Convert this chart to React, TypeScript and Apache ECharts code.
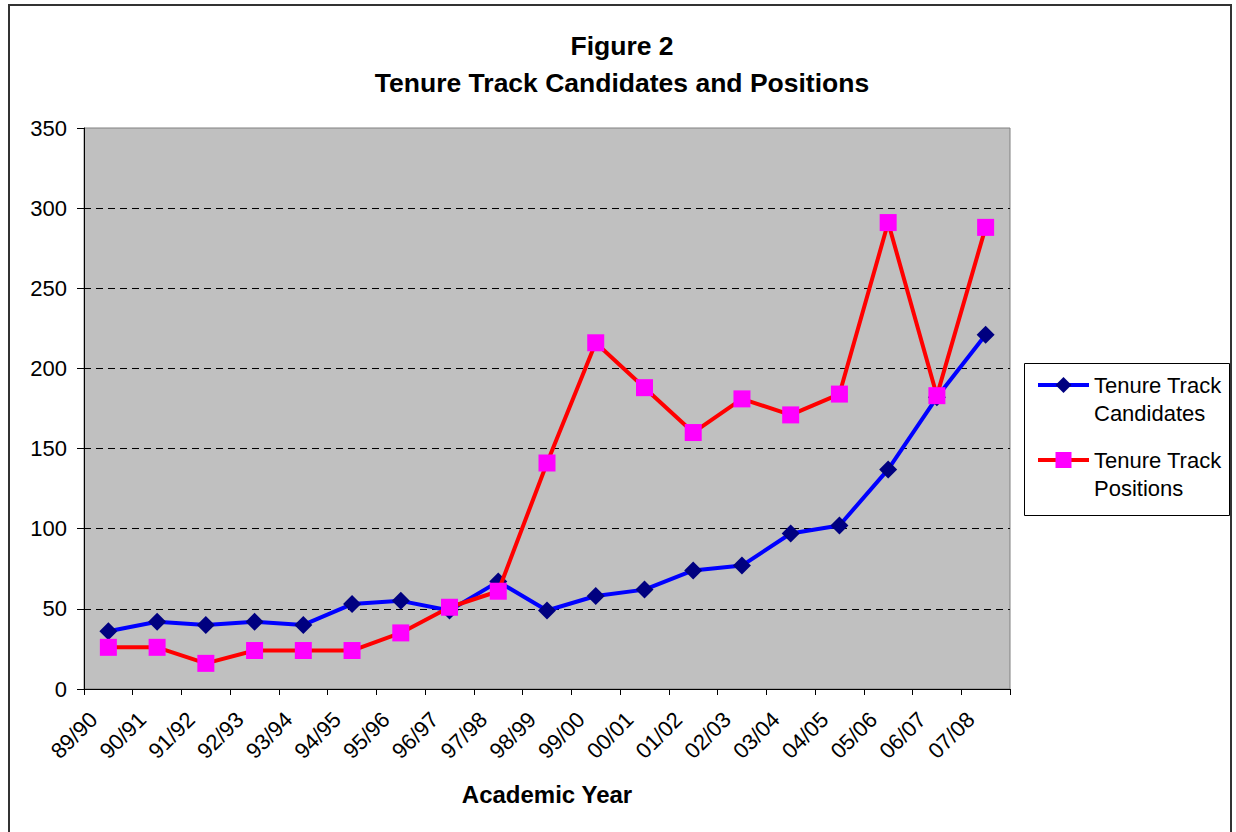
import React, { useEffect, useRef } from "react";
import * as echarts from "echarts";

const categories = ["89/90","90/91","91/92","92/93","93/94","94/95","95/96","96/97","97/98","98/99","99/00","00/01","01/02","02/03","03/04","04/05","05/06","06/07","07/08"];
const candidates = [36,42,40,42,40,53,55,49,67,49,58,62,74,77,97,102,137,182,221];
const positions = [26,26,16,24,24,24,35,51,61,141,216,188,160,181,171,184,291,183,288];
const seriesNames = ["Tenure Track\nCandidates", "Tenure Track\nPositions"];
const yTicks = { min: 0, max: 350, interval: 50 };

const FONT = "'Liberation Sans', Arial, sans-serif";

export default function App() {
  const ref = useRef<HTMLDivElement>(null);
  useEffect(() => {
    if (!ref.current) return;
    const chart = echarts.init(ref.current, null, { renderer: "svg" });
    chart.setOption({
      animation: false,
      backgroundColor: "#ffffff",
      textStyle: { fontFamily: FONT },
      title: {
        text: "Figure 2\nTenure Track Candidates and Positions",
        left: 622,
        top: 27,
        padding: 0,
        textAlign: "center",
        textStyle: { fontFamily: FONT, fontSize: 26.5, fontWeight: "bold", color: "#000", lineHeight: 37 },
      },
      graphic: [
        { type: "rect", shape: { x: 9, y: 5, width: 1222, height: 840 }, style: { fill: "none", stroke: "#333", lineWidth: 2 }, silent: true },
        { type: "rect", shape: { x: 1024.5, y: 363.5, width: 205, height: 152 }, style: { fill: "#fff", stroke: "#000", lineWidth: 1 }, silent: true, z: 1 },
      ],
      legend: {
        orient: "vertical",
        left: 1036,
        top: 343,
        padding: 0,
        itemGap: -9,
        itemWidth: 51,
        itemHeight: 20,
        z: 10,
        lineStyle: { width: 4 },
        formatter: (name: string) => " \n" + name,
        textStyle: { fontFamily: FONT, fontSize: 22, color: "#000", lineHeight: 28 },
        data: seriesNames,
      },
      grid: {
        left: 84,
        top: 128,
        width: 926,
        height: 561,
        show: true,
        backgroundColor: "#C0C0C0",
        borderColor: "#808080",
        borderWidth: 1,
      },
      xAxis: {
        type: "category",
        data: categories,
        boundaryGap: true,
        name: "Academic Year",
        nameLocation: "middle",
        nameGap: 93,
        nameTextStyle: { fontFamily: FONT, fontSize: 24, fontWeight: "bold", color: "#000" },
        axisLine: { lineStyle: { color: "#000", width: 1 } },
        axisTick: { show: true, length: 6, interval: 0, lineStyle: { color: "#000" } },
        axisLabel: {
          interval: 0,
          rotate: 45,
          margin: 12,
          padding: [0, 21, 0, 0],
          fontFamily: FONT,
          fontSize: 22,
          color: "#000",
        },
        splitLine: { show: false },
      },
      yAxis: {
        type: "value",
        min: yTicks.min,
        max: yTicks.max,
        interval: yTicks.interval,
        axisLine: { show: true, lineStyle: { color: "#000", width: 1 } },
        axisTick: { show: true, length: 7, lineStyle: { color: "#000" } },
        axisLabel: { margin: 17, fontFamily: FONT, fontSize: 22, color: "#000" },
        splitLine: { show: true, showMinLine: false, showMaxLine: false, lineStyle: { color: "#000", type: [7, 5], width: 1 } },
      },
      series: [
        {
          name: seriesNames[0],
          type: "line",
          data: candidates,
          symbol: "diamond",
          symbolSize: 18,
          lineStyle: { color: "#0000FF", width: 4 },
          itemStyle: { color: "#000080" },
          z: 2,
        },
        {
          name: seriesNames[1],
          type: "line",
          data: positions,
          symbol: "rect",
          symbolSize: 17,
          lineStyle: { color: "#FF0000", width: 4 },
          itemStyle: { color: "#FF00FF" },
          z: 3,
        },
      ],
    });
    return () => chart.dispose();
  }, []);
  return <div ref={ref} style={{ position: "absolute", left: 0, top: 0, width: 1236, height: 832 }} />;
}
